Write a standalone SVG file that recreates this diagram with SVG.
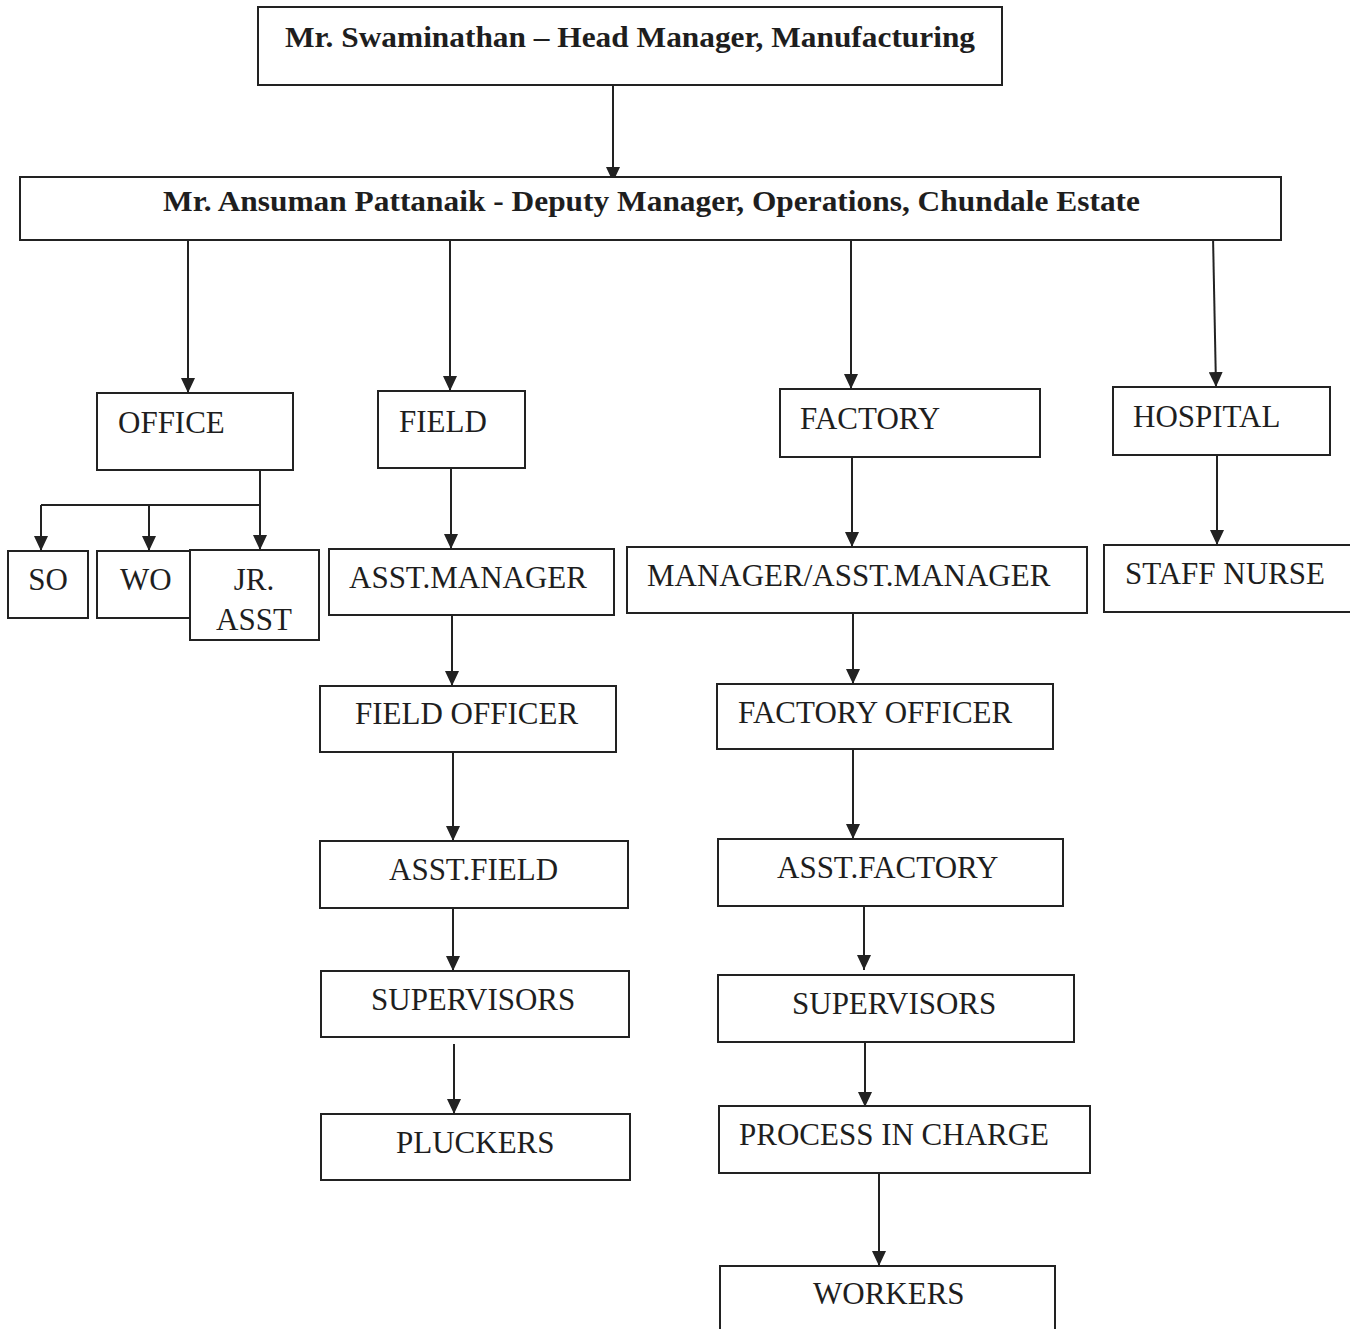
<svg xmlns="http://www.w3.org/2000/svg" width="1350" height="1329" viewBox="0 0 1350 1329">
  <style>
    .box { fill: #ffffff; stroke: #222222; stroke-width: 2; }
    .lbl { font-family: "Liberation Serif", "Times New Roman", serif; font-size: 31px; fill: #1e1e1e; }
    .hd { font-family: "Liberation Serif", "Times New Roman", serif; font-size: 29px; font-weight: bold; fill: #1e1e1e; }
    .edge { fill: none; stroke: #222222; stroke-width: 2; }
    .arr { marker-end: url(#head); }
  </style>
  <defs>
    <marker id="head" markerUnits="userSpaceOnUse" viewBox="0 0 15 14" refX="15" refY="7" markerWidth="15" markerHeight="14" orient="auto">
      <path d="M0,0 L15,7 L0,14 z" fill="#222222"/>
    </marker>
  </defs>
  <rect width="1350" height="1329" fill="#ffffff"/>

  <!-- connectors -->
  <g id="connectors">
    <path class="edge arr" d="M613,85 V182"/>
    <path class="edge arr" d="M188,240 V393"/>
    <path class="edge arr" d="M450,238 V391"/>
    <path class="edge arr" d="M851,237 V389"/>
    <path class="edge arr" d="M1213,236 L1216,387"/>
    <!-- office branches -->
    <path class="edge" d="M260,470 V505 M41,505 H260"/>
    <path class="edge arr" d="M41,505 V551"/>
    <path class="edge arr" d="M149,505 V551"/>
    <path class="edge arr" d="M260,505 V550"/>
    <!-- field column -->
    <path class="edge arr" d="M451,468 V549"/>
    <path class="edge arr" d="M452,615 V686"/>
    <path class="edge arr" d="M453,752 V841"/>
    <path class="edge arr" d="M453,908 V971"/>
    <path class="edge arr" d="M454,1044 V1114"/>
    <!-- factory column -->
    <path class="edge arr" d="M852,457 V547"/>
    <path class="edge arr" d="M853,613 V684"/>
    <path class="edge arr" d="M853,749 V839"/>
    <path class="edge arr" d="M864,906 V970"/>
    <path class="edge arr" d="M865,1042 V1107"/>
    <path class="edge arr" d="M879,1173 V1266"/>
    <!-- hospital column -->
    <path class="edge arr" d="M1217,455 V545"/>
  </g>

  <g id="head-manager">
    <rect class="box" x="258" y="7" width="744" height="78"/>
    <text class="hd" x="285" y="47" textLength="690" lengthAdjust="spacingAndGlyphs">Mr. Swaminathan – Head Manager, Manufacturing</text>
  </g>
  <g id="deputy-manager">
    <rect class="box" x="20" y="177" width="1261" height="63"/>
    <text class="hd" x="163" y="211" textLength="977" lengthAdjust="spacingAndGlyphs">Mr. Ansuman Pattanaik - Deputy Manager, Operations, Chundale Estate</text>
  </g>

  <g id="office">
    <rect class="box" x="97" y="393" width="196" height="77"/>
    <text class="lbl" x="118" y="433">OFFICE</text>
  </g>
  <g id="field">
    <rect class="box" x="378" y="391" width="147" height="77"/>
    <text class="lbl" x="399" y="432">FIELD</text>
  </g>
  <g id="factory">
    <rect class="box" x="780" y="389" width="260" height="68"/>
    <text class="lbl" x="800" y="429">FACTORY</text>
  </g>
  <g id="hospital">
    <rect class="box" x="1113" y="387" width="217" height="68"/>
    <text class="lbl" x="1133" y="427">HOSPITAL</text>
  </g>

  <g id="so">
    <rect class="box" x="8" y="551" width="80" height="67"/>
    <text class="lbl" x="48" y="590" text-anchor="middle">SO</text>
  </g>
  <g id="wo">
    <rect class="box" x="97" y="551" width="110" height="67"/>
    <text class="lbl" x="120" y="590">WO</text>
  </g>
  <g id="jr-asst">
    <rect class="box" x="190" y="550" width="129" height="90"/>
    <text class="lbl" x="254" y="590" text-anchor="middle">JR.</text>
    <text class="lbl" x="254" y="630" text-anchor="middle">ASST</text>
  </g>

  <g id="asst-manager">
    <rect class="box" x="329" y="549" width="285" height="66"/>
    <text class="lbl" x="349" y="588">ASST.MANAGER</text>
  </g>
  <g id="field-officer">
    <rect class="box" x="320" y="686" width="296" height="66"/>
    <text class="lbl" x="355" y="724">FIELD OFFICER</text>
  </g>
  <g id="asst-field">
    <rect class="box" x="320" y="841" width="308" height="67"/>
    <text class="lbl" x="389" y="880">ASST.FIELD</text>
  </g>
  <g id="field-supervisors">
    <rect class="box" x="321" y="971" width="308" height="66"/>
    <text class="lbl" x="371" y="1010">SUPERVISORS</text>
  </g>
  <g id="pluckers">
    <rect class="box" x="321" y="1114" width="309" height="66"/>
    <text class="lbl" x="396" y="1153">PLUCKERS</text>
  </g>

  <g id="manager-asst-manager">
    <rect class="box" x="627" y="547" width="460" height="66"/>
    <text class="lbl" x="647" y="586">MANAGER/ASST.MANAGER</text>
  </g>
  <g id="factory-officer">
    <rect class="box" x="717" y="684" width="336" height="65"/>
    <text class="lbl" x="738" y="723">FACTORY OFFICER</text>
  </g>
  <g id="asst-factory">
    <rect class="box" x="718" y="839" width="345" height="67"/>
    <text class="lbl" x="777" y="878">ASST.FACTORY</text>
  </g>
  <g id="factory-supervisors">
    <rect class="box" x="718" y="975" width="356" height="67"/>
    <text class="lbl" x="792" y="1014">SUPERVISORS</text>
  </g>
  <g id="process-in-charge">
    <rect class="box" x="719" y="1106" width="371" height="67"/>
    <text class="lbl" x="739" y="1145">PROCESS IN CHARGE</text>
  </g>
  <g id="workers">
    <rect class="box" x="720" y="1266" width="335" height="80"/>
    <text class="lbl" x="813" y="1304">WORKERS</text>
  </g>

  <g id="staff-nurse">
    <rect class="box" x="1104" y="545" width="260" height="67"/>
    <text class="lbl" x="1125" y="584">STAFF NURSE</text>
  </g>
</svg>
